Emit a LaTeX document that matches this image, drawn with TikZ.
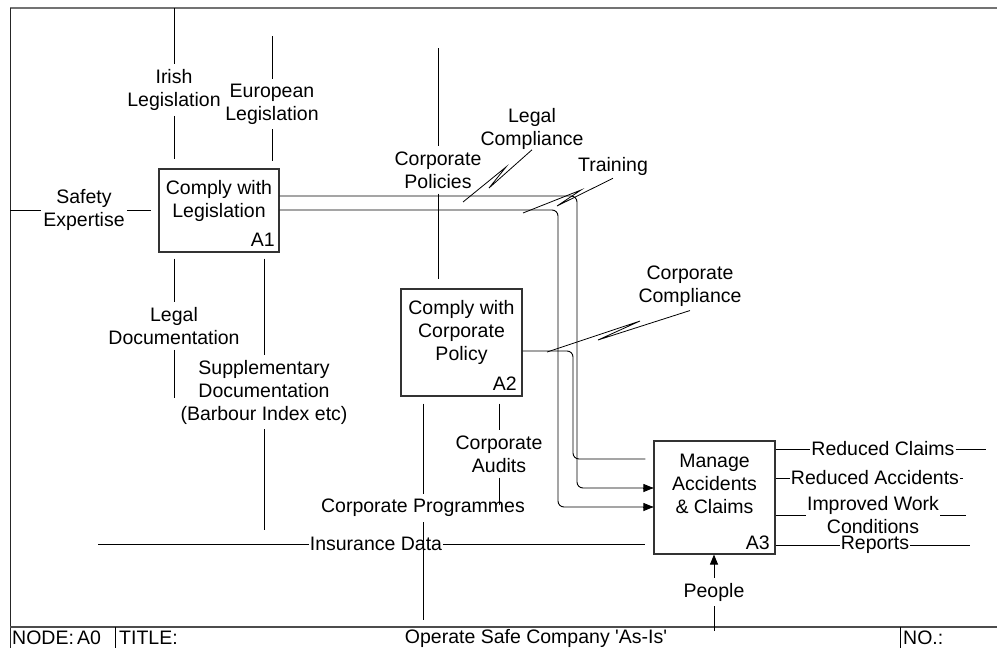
\documentclass[tikz,border=0pt]{standalone}
\usepackage{fontspec}
\setmainfont{Liberation Sans}
\usetikzlibrary{arrows.meta}
\begin{document}
\begin{tikzpicture}[x=1pt,y=-1pt,
  every node/.style={font=\fontsize{19.5}{23}\selectfont},
  box/.style={draw=black!80, line width=1.1pt, inner sep=0pt},
  txt/.style={align=center, inner sep=0pt},
  lbl/.style={align=center, inner xsep=2pt, inner ysep=5pt},
  hl/.style={align=center, inner xsep=1pt, inner ysep=2pt},
  ln/.style={line width=0.9pt},
  sq/.style={line width=0.8pt},
  arr/.style={ln, -{Triangle[length=10pt,width=8pt]}},
  rc/.style={ln, rounded corners=6pt}]
\useasboundingbox (0,0) rectangle (997,648);
% frame
\draw[black!55, line width=2pt] (10,8) -- (997,8);
\draw[black!85, line width=1pt] (10,8) -- (10,648);
\draw[black!70, line width=1.5pt] (10,627) -- (997,627);
\draw[line width=1pt] (115,627) -- (115,648) (900,627) -- (900,648);
\node[txt, anchor=west] (nodeA0) at (12,638) {NODE:\,A0};
\node[txt, anchor=west] (title) at (119,638) {TITLE:};
\node[txt] (titletext) at (536,638) {Operate Safe Company \textquotesingle As-Is\textquotesingle};
\node[txt, anchor=west] (no) at (903,638) {NO.:};

% boxes
\node[box, minimum width=120pt, minimum height=83pt] (A1) at (219,210.5) {};
\node[box, minimum width=121pt, minimum height=107pt] (A2) at (461.5,342.5) {};
\node[box, minimum width=121pt, minimum height=113pt] (A3) at (714.5,497.5) {};
\node[txt] (A1t) at (219,201) {Comply with\\Legislation};
\node[txt] (A2t) at (461.5,332.5) {Comply with\\Corporate\\Policy};
\node[txt] (A3t) at (714.5,484) {Manage\\Accidents\\\& Claims};
\node[txt, anchor=east] (A1n) at (275,240) {A1};
\node[txt, anchor=east] (A2n) at (517,384) {A2};
\node[txt, anchor=east] (A3n) at (770,543) {A3};

% labels
\node[lbl] (irish) at (174,90) {Irish\\Legislation};
\node[lbl] (euro) at (272,104) {European\\Legislation};
\node[lbl] (safety) at (84,210) {Safety\\Expertise};
\node[lbl] (legaldoc) at (174,326) {Legal\\Documentation};
\node[lbl] (supp) at (264,392) {Supplementary\\Documentation\\(Barbour Index etc)};
\node[lbl] (corppol) at (438,170) {Corporate\\Policies};
\node[lbl] (corpaud) at (499,454) {Corporate\\Audits};
\node[lbl] (corpprog) at (423,508) {Corporate Programmes};
\node[hl] (insur) at (376,544) {Insurance Data};
\node[hl] (redcl) at (883,449) {Reduced Claims};
\node[hl] (redacc) at (875,478) {Reduced Accidents};
\node[hl] (improved) at (873,515) {Improved Work\\Conditions};
\node[hl] (reports) at (875,545) {Reports};
\node[lbl] (people) at (714,592) {People};
\node[txt] (legalcomp) at (532,129) {Legal\\Compliance};
\node[txt] (training) at (613,166) {Training};
\node[txt] (corpcomp) at (690,286) {Corporate\\Compliance};

% coordinates for free ends
\coordinate (irishTop) at (174,8);
\coordinate (euroTop) at (272,36);
\coordinate (safeL) at (10,210);
\coordinate (legaldocEnd) at (174,398);
\coordinate (suppEnd) at (264,530);
\coordinate (corppolTop) at (438,48);
\coordinate (corpaudEnd) at (499,505);
\coordinate (corpprogEnd) at (423,620);
\coordinate (insL) at (98,544);
\coordinate (redclE) at (986,449);
\coordinate (redaccE) at (963,478);
\coordinate (improvedE) at (966,515);
\coordinate (reportsE) at (970,545);
\coordinate (peopleB) at (714,631);

% controls / inputs / mechanisms
\draw[ln] (irishTop) -- (irish);
\draw[ln, shorten >=9pt] (irish) -- (irish |- A1.north);
\draw[ln] (euroTop) -- (euro);
\draw[ln, shorten >=7pt] (euro) -- (euro |- A1.north);
\draw[ln] (safeL) -- (safety);
\draw[ln, shorten >=7pt] (safety) -- (safety -| A1.west);
\draw[ln, shorten <=6pt] (legaldoc |- A1.south) -- (legaldoc);
\draw[ln] (legaldoc) -- (legaldocEnd);
\draw[ln, shorten <=6pt] (supp |- A1.south) -- (supp);
\draw[ln] (supp) -- (suppEnd);
\draw[ln] (corppolTop) -- (corppol);
\draw[ln, shorten >=9pt] (corppol) -- (corppol |- A2.north);
\draw[ln, shorten <=7pt] (corpaud |- A2.south) -- (corpaud);
\draw[ln] (corpaud) -- (corpaudEnd);
\draw[ln, shorten <=7pt] (corpprog |- A2.south) -- (corpprog);
\draw[ln] (corpprog) -- (corpprogEnd);
\draw[ln] (insL) -- (insur);
\draw[ln, shorten >=8pt] (insur) -- (insur -| A3.west);
\draw[ln] (peopleB) -- (people);
\draw[arr] (people) -- (people |- A3.south);

% internal arrows
\coordinate (c1) at (577,196);
\coordinate (c1b) at (577,488);
\coordinate (c2) at (558,210);
\coordinate (c2b) at (558,507);
\coordinate (c3) at (573,351);
\coordinate (c3b) at (573,459);
\draw[rc] (A1.east |- c1) -- (c1) -- (c1b) -- (A3.west |- c1b);
\draw[arr] ([xshift=-10pt]A3.west |- c1b) -- (A3.west |- c1b);
\draw[rc] (A1.east |- c2) -- (c2) -- (c2b) -- (A3.west |- c2b);
\draw[arr] ([xshift=-10pt]A3.west |- c2b) -- (A3.west |- c2b);
\draw[rc, shorten >=8pt] (A2.east |- c3) -- (c3) -- (c3b) -- (A3.west |- c3b);

% outputs of A3
\draw[ln] (A3.east |- redclE) -- (redcl);
\draw[ln] (redcl) -- (redclE);
\draw[ln] (A3.east |- redaccE) -- (redacc);
\draw[ln] (redacc) -- (redaccE);
\draw[ln] (A3.east |- improvedE) -- (improved);
\draw[ln] (improved) -- (improvedE);
\draw[ln] (A3.east |- reportsE) -- (reports);
\draw[ln] (reports) -- (reportsE);

% squiggles
\coordinate (lcP1) at (489,188);
\coordinate (lcP2) at (506,167);
\coordinate (lcB) at (463,202);
\draw[sq] (legalcomp.south) -- (lcP1) -- (lcP2) -- (lcB);
\coordinate (trP1) at (557,206);
\coordinate (trP2) at (581,190);
\coordinate (trB) at (523,213);
\draw[sq] ([yshift=-3pt]training.south) -- (trP1) -- (trP2) -- (trB);
\coordinate (ccP1) at (598,340);
\coordinate (ccP2) at (640,321);
\coordinate (ccB) at (547,352);
\draw[sq] ([yshift=-4pt]corpcomp.south) -- (ccP1) -- (ccP2) -- (ccB);
\end{tikzpicture}
\end{document}
